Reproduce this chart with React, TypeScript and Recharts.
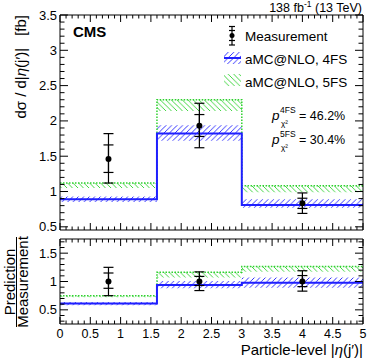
import React from "react";
import {
  Area,
  ComposedChart,
  ErrorBar,
  Line,
  Scatter,
  XAxis,
  YAxis,
} from "recharts";

const FONT = "'Liberation Sans', Arial, Helvetica, sans-serif";
const BLUE = "#1f1fff";
const GREEN = "#2fd12f";

// bins in particle-level |eta(j')|; the last edge closes the step
const binEdges = [0, 1.6, 3, 5];
const binCentres = [0.8, 2.3, 4];

// upper panel, dsigma/d|eta| in fb
const measValue = [1.46, 1.93, 0.835];
const measStatDn = [0.19, 0.15, 0.075];
const measStatUp = [0.2, 0.16, 0.07];
const measTotDn = [0.34, 0.31, 0.145];
const measTotUp = [0.36, 0.32, 0.145];

const nlo4 = [0.89, 1.82, 0.81];
const nlo4Lo = [0.85, 1.72, 0.77];
const nlo4Hi = [0.93, 1.94, 0.89];
const nlo5 = [1.12, 2.3, 1.08];
const nlo5Lo = [1.05, 2.14, 0.99];

// lower panel, prediction / measurement
const ratioMeas = [1, 1, 1];
const ratioStatDn = [0.12, 0.07, 0.09];
const ratioStatUp = [0.15, 0.09, 0.105];
const ratioTotDn = [0.25, 0.16, 0.17];
const ratioTotUp = [0.25, 0.17, 0.19];

const ratio4 = [0.61, 0.94, 0.98];
const ratio4Lo = [0.58, 0.88, 0.89];
const ratio4Hi = [0.64, 1.01, 1.07];
const ratio5 = [0.75, 1.165, 1.265];
const ratio5Lo = [0.72, 1.07, 1.17];

// axes
const xMajor = [0, 0.5, 1, 1.5, 2, 2.5, 3, 3.5, 4, 4.5, 5];
const topYMajor = [0.5, 1, 1.5, 2, 2.5, 3, 3.5];
const ratioYMajor = [0.5, 1, 1.5];

const steps = (from: number, to: number, step: number) => {
  const out: number[] = [];
  for (let v = from; v <= to + 1e-9; v += step) out.push(Math.round(v * 100) / 100);
  return out;
};
const xTicks = steps(0, 5, 0.1);
const topYTicks = steps(0.5, 3.5, 0.1);
const ratioYTicks = steps(0.3, 1.7, 0.1);

const bin = (i: number) => Math.min(i, 2);

const topRows = binEdges.map((x, i) => ({
  x,
  nlo4: nlo4[bin(i)],
  band4: [nlo4Lo[bin(i)], nlo4Hi[bin(i)]],
  nlo5: nlo5[bin(i)],
  band5: [nlo5Lo[bin(i)], nlo5[bin(i)]],
}));

const ratioRows = binEdges.map((x, i) => ({
  x,
  nlo4: ratio4[bin(i)],
  band4: [ratio4Lo[bin(i)], ratio4Hi[bin(i)]],
  nlo5: ratio5[bin(i)],
  band5: [ratio5Lo[bin(i)], ratio5[bin(i)]],
}));

const topMeas = binCentres.map((x, i) => ({
  x,
  y: measValue[i],
  stat: [measStatDn[i], measStatUp[i]],
  tot: [measTotDn[i], measTotUp[i]],
}));

const ratioMeasRows = binCentres.map((x, i) => ({
  x,
  y: ratioMeas[i],
  stat: [ratioStatDn[i], ratioStatUp[i]],
  tot: [ratioTotDn[i], ratioTotUp[i]],
}));

const isMajor = (v: number, majors: number[]) => majors.some((m) => Math.abs(m - v) < 1e-6);
const fmt = (v: number) => String(Math.round(v * 10) / 10);

type Side = "left" | "right" | "top" | "bottom";

// ROOT style: ticks point into the frame, labels only on the majors
function makeTick(side: Side, majors: number[], labels: boolean, majorLen: number, minorLen: number) {
  return (p: any) => {
    const { x, y, payload } = p;
    const v = payload.value as number;
    const major = isMajor(v, majors);
    const len = major ? majorLen : minorLen;
    let line;
    if (side === "left") line = <line x1={x} x2={x + len} y1={y} y2={y} />;
    else if (side === "right") line = <line x1={x} x2={x - len} y1={y} y2={y} />;
    else if (side === "bottom") line = <line x1={x} x2={x} y1={y} y2={y - len} />;
    else line = <line x1={x} x2={x} y1={y} y2={y + len} />;
    return (
      <g stroke="#000" strokeWidth={1}>
        {line}
        {labels && major && side === "left" && (
          <text x={x - 3} y={y + 4.5} textAnchor="end" fontSize={13} fill="#000" stroke="none" fontFamily={FONT}>
            {fmt(v)}
          </text>
        )}
        {labels && major && side === "bottom" && (
          <text x={x} y={y + 14} textAnchor="middle" fontSize={12.5} fill="#000" stroke="none" fontFamily={FONT}>
            {fmt(v)}
          </text>
        )}
      </g>
    );
  };
}

// ROOT fill styles 3004 (/) and 3005 (\)
const HATCH_UP = "M0,5.5 L5.5,0 M-1,1 L1,-1 M4.5,6.5 L6.5,4.5";
const HATCH_DOWN = "M0,0 L5.5,5.5 M-1,4.5 L1,6.5 M4.5,-1 L6.5,1";

function Hatch({ id, d, color }: { id: string; d: string; color: string }) {
  return (
    <pattern id={id} patternUnits="userSpaceOnUse" width={5.5} height={5.5}>
      <path d={d} stroke={color} strokeWidth={0.9} />
    </pattern>
  );
}

function Panel({
  rows,
  meas,
  yDomain,
  yTicks,
  yMajor,
  height,
  margin,
  xLabels,
}: {
  rows: any[];
  meas: any[];
  yDomain: [number, number];
  yTicks: number[];
  yMajor: number[];
  height: number;
  margin: { top: number; right: number; bottom: number; left: number };
  xLabels: boolean;
}) {
  const axisLine = { stroke: "#000", strokeWidth: 1 };
  return (
    <ComposedChart width={374} height={height} data={rows} margin={margin}>
      <defs>
        <Hatch id="hatchBlue" d={HATCH_UP} color={BLUE} />
        <Hatch id="hatchGreen" d={HATCH_DOWN} color={GREEN} />
      </defs>
      <XAxis
        dataKey="x"
        type="number"
        domain={[0, 5]}
        ticks={xTicks}
        interval={0}
        allowDataOverflow
        height={1}
        tickSize={0}
        tickMargin={0}
        tickLine={false}
        axisLine={axisLine}
        tick={makeTick("bottom", xMajor, xLabels, 7, 3.5)}
      />
      <XAxis
        xAxisId="top"
        orientation="top"
        dataKey="x"
        type="number"
        domain={[0, 5]}
        ticks={xTicks}
        interval={0}
        allowDataOverflow
        height={1}
        tickSize={0}
        tickMargin={0}
        tickLine={false}
        axisLine={axisLine}
        tick={makeTick("top", xMajor, false, 7, 3.5)}
      />
      <YAxis
        type="number"
        domain={yDomain}
        ticks={yTicks}
        interval={0}
        allowDataOverflow
        width={1}
        tickSize={0}
        tickMargin={0}
        tickLine={false}
        axisLine={axisLine}
        tick={makeTick("left", yMajor, true, 8, 4.5)}
      />
      <YAxis
        yAxisId="right"
        orientation="right"
        type="number"
        domain={yDomain}
        ticks={yTicks}
        interval={0}
        allowDataOverflow
        width={1}
        tickSize={0}
        tickMargin={0}
        tickLine={false}
        axisLine={axisLine}
        tick={makeTick("right", yMajor, false, 8, 4.5)}
      />
      <Area
        type="stepAfter"
        dataKey="band5"
        fill="url(#hatchGreen)"
        fillOpacity={1}
        stroke="none"
        isAnimationActive={false}
      />
      <Area
        type="stepAfter"
        dataKey="band4"
        fill="url(#hatchBlue)"
        fillOpacity={1}
        stroke="none"
        isAnimationActive={false}
      />
      <Line
        type="stepAfter"
        dataKey="nlo5"
        stroke={GREEN}
        strokeWidth={1.5}
        strokeDasharray="1.5 1.5"
        dot={false}
        isAnimationActive={false}
      />
      <Line
        type="stepAfter"
        dataKey="nlo4"
        stroke={BLUE}
        strokeWidth={2}
        dot={false}
        isAnimationActive={false}
      />
      <Scatter
        data={meas}
        dataKey="y"
        isAnimationActive={false}
        shape={(p: any) => <circle cx={p.cx} cy={p.cy} r={3} fill="#000" />}
      >
        <ErrorBar dataKey="tot" direction="y" width={5} stroke="#000" strokeWidth={1.2} />
        <ErrorBar dataKey="stat" direction="y" width={5} stroke="#000" strokeWidth={1.2} />
      </Scatter>
    </ComposedChart>
  );
}

export default function App() {
  return (
    <div
      style={{
        position: "absolute",
        left: 0,
        top: 0,
        width: 374,
        height: 363,
        background: "#fff",
        fontFamily: FONT,
      }}
    >
      <div style={{ position: "absolute", left: 0, top: 0 }}>
        <Panel
          rows={topRows}
          meas={topMeas}
          yDomain={[0.455, 3.5]}
          yTicks={topYTicks}
          yMajor={topYMajor}
          height={235}
          margin={{ top: 14, right: 10, bottom: 4, left: 59 }}
          xLabels={false}
        />
      </div>
      <div style={{ position: "absolute", left: 0, top: 235 }}>
        <Panel
          rows={ratioRows}
          meas={ratioMeasRows}
          yDomain={[0.25, 1.75]}
          yTicks={ratioYTicks}
          yMajor={ratioYMajor}
          height={128}
          margin={{ top: 3, right: 10, bottom: 38, left: 59 }}
          xLabels={true}
        />
      </div>
      <svg
        width={374}
        height={363}
        style={{ position: "absolute", left: 0, top: 0, pointerEvents: "none" }}
        fontFamily={FONT}
      >
        <defs>
          <Hatch id="lgBlue" d={HATCH_UP} color={BLUE} />
          <Hatch id="lgGreen" d={HATCH_DOWN} color={GREEN} />
        </defs>

        <text x={362} y={11.5} textAnchor="end" fontSize={12.5}>
          138 fb<tspan dy={-4.5} fontSize={8.5}>-1</tspan>
          <tspan dy={4.5}> (13 TeV)</tspan>
        </text>
        <text x={73} y={37} fontSize={15} fontWeight="bold">
          CMS
        </text>

        {/* legend */}
        <g stroke="#000" strokeWidth={1.2}>
          <line x1={232} x2={232} y1={26.5} y2={45} />
          <line x1={229} x2={235} y1={26.5} y2={26.5} />
          <line x1={229} x2={235} y1={45} y2={45} />
          <line x1={229} x2={235} y1={30.5} y2={30.5} />
          <line x1={229} x2={235} y1={40.5} y2={40.5} />
        </g>
        <circle cx={232} cy={35.5} r={2.5} fill="#000" />
        <text x={245} y={40.5} fontSize={13.5}>
          Measurement
        </text>
        <rect x={224} y={52} width={17} height={12} fill="url(#lgBlue)" />
        <line x1={224} x2={241} y1={58} y2={58} stroke={BLUE} strokeWidth={2} />
        <text x={245} y={64} fontSize={13.5}>
          aMC@NLO, 4FS
        </text>
        <rect x={224} y={74} width={17} height={12} fill="url(#lgGreen)" />
        <text x={245} y={86.5} fontSize={13.5}>
          aMC@NLO, 5FS
        </text>

        {/* chi2 probabilities */}
        <text x={272} y={119.5} fontSize={13.5} fontStyle="italic">
          p
        </text>
        <text x={280} y={112.5} fontSize={8.5}>
          4FS
        </text>
        <text x={281} y={126} fontSize={8}>
          χ²
        </text>
        <text x={299} y={119.5} fontSize={12.5}>
          = 46.2%
        </text>
        <text x={272} y={143.5} fontSize={13.5} fontStyle="italic">
          p
        </text>
        <text x={280} y={136.5} fontSize={8.5}>
          5FS
        </text>
        <text x={281} y={150} fontSize={8}>
          χ²
        </text>
        <text x={299} y={143.5} fontSize={12.5}>
          = 30.4%
        </text>

        {/* axis titles */}
        <text transform="translate(25.5,15) rotate(-90)" textAnchor="end" fontSize={15}>
          dσ / d|<tspan fontStyle="italic">η</tspan>(j′)|<tspan dx={12}>[fb]</tspan>
        </text>
        <text transform="translate(15,282) rotate(-90)" textAnchor="middle" fontSize={15}>
          Prediction
        </text>
        <line x1={16.5} x2={16.5} y1={237} y2={327} stroke="#000" strokeWidth={1} />
        <text transform="translate(27.5,282) rotate(-90)" textAnchor="middle" fontSize={15}>
          Measurement
        </text>
        <text x={363} y={355} textAnchor="end" fontSize={15}>
          Particle-level |<tspan fontStyle="italic">η</tspan>(j′)|
        </text>
      </svg>
    </div>
  );
}
